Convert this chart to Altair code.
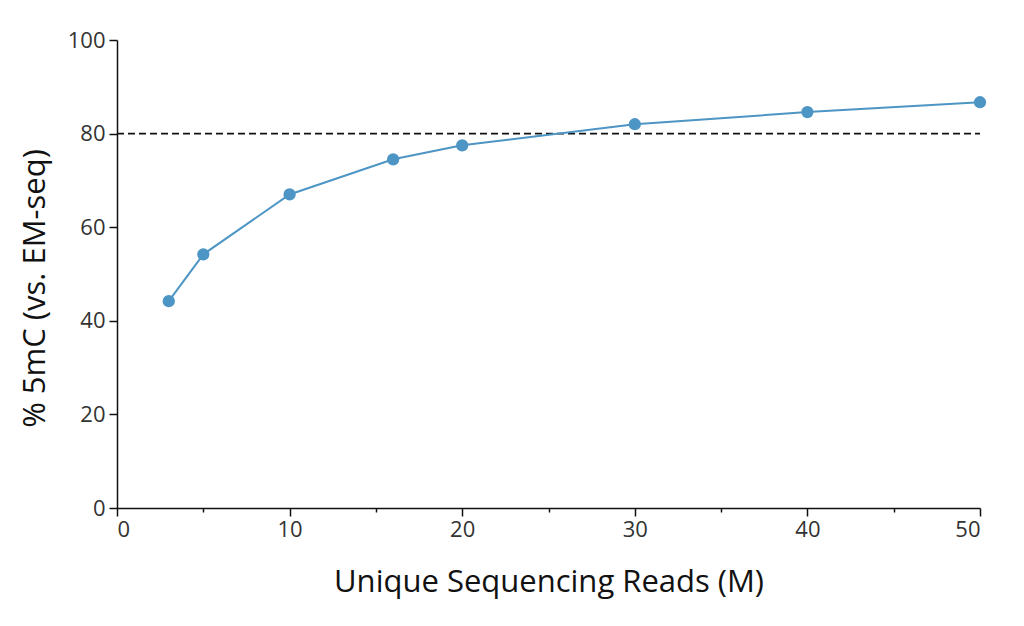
import altair as alt
import pandas as pd

reads = [3, 5, 10, 16, 20, 30, 40, 50]
pct = [44.2, 54.2, 67.0, 74.5, 77.5, 82.0, 84.6, 86.7]
threshold = [80]

df = pd.DataFrame({"reads": reads, "pct": pct})
thr = pd.DataFrame({"y": threshold, "x0": [0], "x1": [50]})

FONT = "Open Sans"
BLUE = "#4d95c4"

x_enc = alt.X(
    "reads:Q",
    scale=alt.Scale(domain=[0, 50], nice=False),
    axis=alt.Axis(
        title="Unique Sequencing Reads (M)",
        values=[0, 5, 10, 15, 20, 25, 30, 35, 40, 45, 50],
        labelExpr="datum.value % 10 === 0 ? datum.label : ''",
        tickSize={"condition": {"test": "datum.value % 10 === 0", "value": 8}, "value": 4},
        labelPadding=3,
        titlePadding=27,
    ),
)
y_enc = alt.Y(
    "pct:Q",
    scale=alt.Scale(domain=[0, 100], nice=False),
    axis=alt.Axis(
        title="% 5mC (vs. EM-seq)",
        values=[0, 20, 40, 60, 80, 100],
        tickSize=8,
        labelPadding=4,
        titlePadding=16,
        titleY=248,
    ),
)

line = alt.Chart(df).mark_line(color=BLUE, strokeWidth=2).encode(x=x_enc, y=y_enc)
pts = alt.Chart(df).mark_circle(color=BLUE, size=150, opacity=1).encode(x="reads:Q", y="pct:Q")
rule = alt.Chart(thr).mark_rule(color="#111111", strokeDash=[7, 4], strokeWidth=1.6).encode(
    x="x0:Q", x2="x1:Q", y="y:Q"
)

chart = (
    alt.layer(rule, line, pts)
    .properties(width=863, height=468, padding={"left": 11, "top": 21, "right": 5, "bottom": 5})
    .configure_view(stroke=None)
    .configure_axis(
        grid=False,
        domainColor="#111111",
        domainWidth=1.5,
        tickColor="#111111",
        tickWidth=1.5,
        labelFont=FONT,
        labelFontSize=22,
        labelColor="#333333",
        titleFont=FONT,
        titleFontSize=31,
        titleFontWeight="normal",
        titleColor="#111111",
    )
)

chart.save("out.html", embed_options={"renderer": "svg", "actions": False})
